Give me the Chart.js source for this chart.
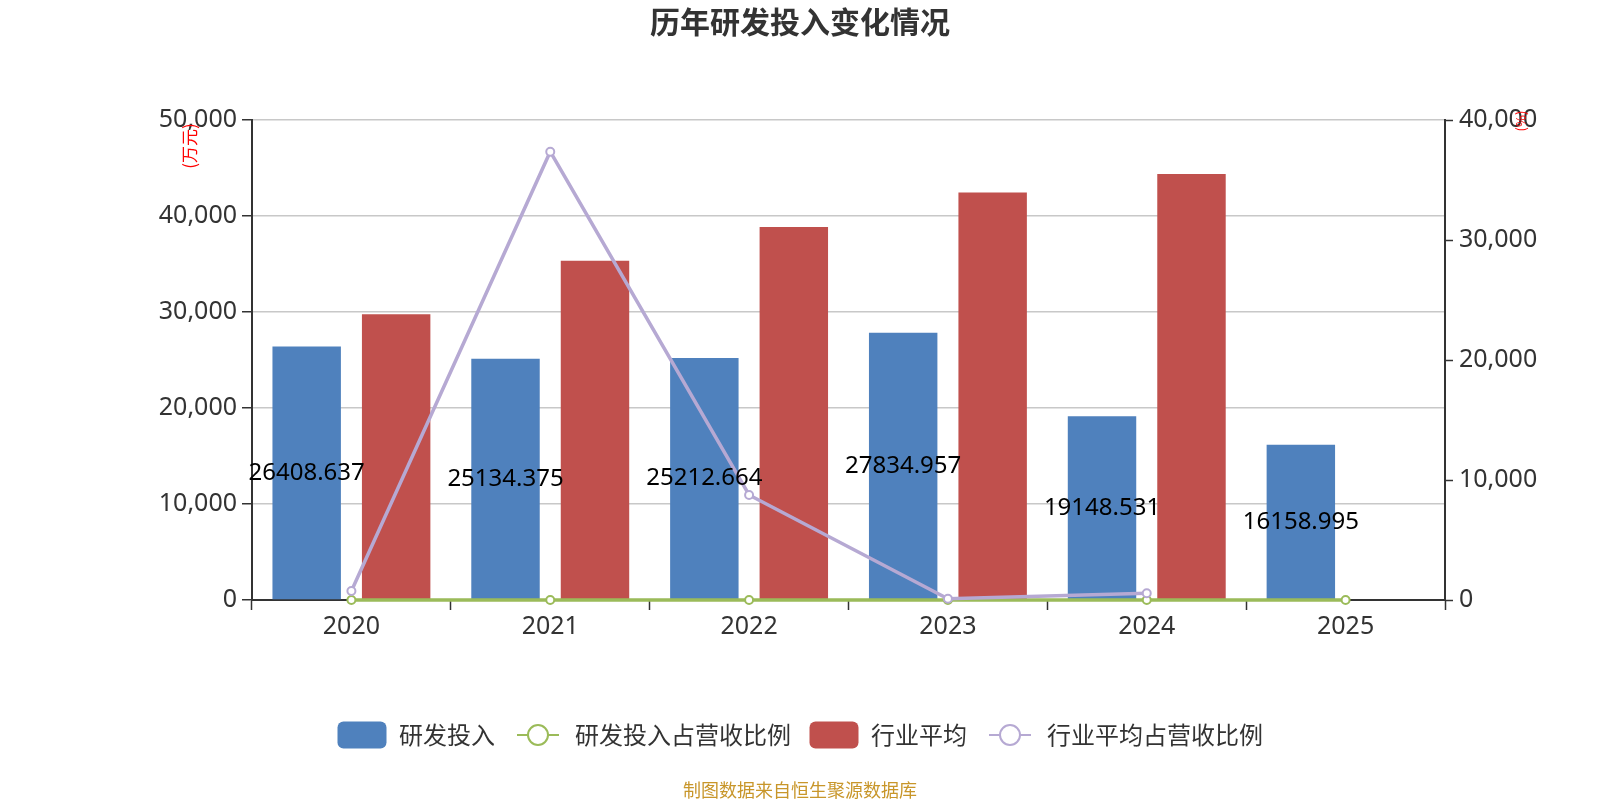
<!DOCTYPE html>
<html>
<head>
<meta charset="utf-8">
<script src="https://cdn.jsdelivr.net/npm/chart.js"></script>
<style>
	html, body { margin: 0; padding: 0; background: #fff; }
	#wrap { position: relative; width: 1600px; height: 800px; }
</style>
</head>
<body>
<div id="wrap"><canvas id="rd-chart"></canvas></div>
<script>
// data
const years = ['2020', '2021', '2022', '2023', '2024', '2025']
const rdSpend = [26408.637, 25134.375, 25212.664, 27834.957, 19148.531, 16158.995]
const rdRatio = [6.6, 6.8, 6.3, 6.9, 4.6, 4.2]
const industryAvg = [29760, 35350, 38850, 42460, 44370, null]
const industryRatio = [750, 37360, 8750, 100, 560, null]
const leftMax = 50000
const rightMax = 40000
const tickStep = 10000

const seriesNames = ['研发投入', '研发投入占营收比例', '行业平均', '行业平均占营收比例']

const BLUE = '#4f81bd'
const GREEN = '#9bbb59'
const RED = '#c0504d'
const PURPLE = '#b6a9d3'
const AXIS = '#333333'
const FONT = "'Noto Sans', 'Noto Sans CJK SC', sans-serif"
const CJK = "'Noto Sans CJK SC', sans-serif"

// legend icons
function boxIcon(color) {
	const c = document.createElement('canvas')
	c.width = 50
	c.height = 28
	const ctx = c.getContext('2d')
	ctx.fillStyle = color
	ctx.beginPath()
	ctx.roundRect(0.5, 0.5, 49, 27, 6)
	ctx.fill()
	return c
}

function lineIcon(color) {
	const c = document.createElement('canvas')
	c.width = 50
	c.height = 28
	const ctx = c.getContext('2d')
	ctx.strokeStyle = color
	ctx.lineWidth = 2
	ctx.beginPath()
	ctx.moveTo(4, 14)
	ctx.lineTo(46, 14)
	ctx.stroke()
	ctx.beginPath()
	ctx.arc(25, 14, 10, 0, Math.PI * 2)
	ctx.fillStyle = '#fff'
	ctx.fill()
	ctx.stroke()
	return c
}

const icons = [boxIcon(BLUE), lineIcon(GREEN), boxIcon(RED), lineIcon(PURPLE)]

// value labels inside the blue bars, units and source note
const extras = {
	id: 'extras',
	afterDatasetsDraw(chart) {
		const ctx = chart.ctx
		const meta = chart.getDatasetMeta(0)
		ctx.save()
		ctx.font = `24px ${FONT}`
		ctx.fillStyle = '#000'
		ctx.textAlign = 'center'
		ctx.textBaseline = 'middle'
		meta.data.forEach((bar, i) => {
			const { x, y, base } = bar.getProps(['x', 'y', 'base'], true)
			ctx.fillText(String(rdSpend[i]), x, (y + base) / 2)
		})
		ctx.restore()
	},
	afterDraw(chart) {
		const ctx = chart.ctx
		const area = chart.chartArea
		ctx.save()
		ctx.fillStyle = '#ff0000'
		ctx.font = `17px ${CJK}`
		ctx.textAlign = 'center'
		ctx.textBaseline = 'middle'
		ctx.translate(area.left - 62, area.top + 26)
		ctx.rotate(-Math.PI / 2)
		ctx.fillText('(万元)', 0, 0)
		ctx.restore()

		ctx.save()
		ctx.fillStyle = '#ff0000'
		ctx.font = `13px ${CJK}`
		ctx.textAlign = 'center'
		ctx.textBaseline = 'middle'
		ctx.translate(area.right + 76, area.top + 1)
		ctx.rotate(-Math.PI / 2)
		ctx.fillText('(%)', 0, 0)
		ctx.restore()

		ctx.save()
		ctx.fillStyle = '#c8962a'
		ctx.font = `18px ${CJK}`
		ctx.textAlign = 'center'
		ctx.textBaseline = 'middle'
		ctx.fillText('制图数据来自恒生聚源数据库', chart.width / 2, 790)
		ctx.restore()
	},
}

const fmt = (v) => Number(v).toLocaleString('en-US')

new Chart(document.getElementById('rd-chart'), {
	type: 'bar',
	data: {
		labels: years,
		datasets: [
			{
				type: 'bar',
				label: seriesNames[0],
				data: rdSpend,
				backgroundColor: BLUE,
				yAxisID: 'y',
				order: 1,
			},
			{
				type: 'line',
				label: seriesNames[1],
				data: rdRatio,
				borderColor: GREEN,
				borderWidth: 3.5,
				pointRadius: 4,
				pointBorderWidth: 2,
				pointBackgroundColor: '#fff',
				pointBorderColor: GREEN,
				yAxisID: 'y1',
				clip: false,
				order: 0,
			},
			{
				type: 'bar',
				label: seriesNames[2],
				data: industryAvg,
				backgroundColor: RED,
				yAxisID: 'y',
				order: 1,
			},
			{
				type: 'line',
				label: seriesNames[3],
				data: industryRatio,
				borderColor: PURPLE,
				borderWidth: 3.5,
				pointRadius: 4,
				pointBorderWidth: 2,
				pointBackgroundColor: '#fff',
				pointBorderColor: PURPLE,
				yAxisID: 'y1',
				clip: false,
				order: -1,
			},
		],
	},
	options: {
		responsive: true,
		maintainAspectRatio: false,
		animation: false,
		datasets: {
			bar: { categoryPercentage: 0.9, barPercentage: 0.765 },
		},
		layout: { padding: { left: 0, right: 0, top: 0, bottom: 43 } },
		plugins: {
			tooltip: { enabled: false },
			title: {
				display: true,
				text: '历年研发投入变化情况',
				color: '#333',
				font: { family: CJK, size: 30, weight: 'bold', lineHeight: 1.2 },
				padding: { top: 4, bottom: 80 },
			},
			legend: {
				position: 'bottom',
				labels: {
					usePointStyle: true,
					pointStyleWidth: 50,
					padding: 18,
					color: '#333',
					font: { family: CJK, size: 24 },
					generateLabels(chart) {
						return chart.data.datasets.map((ds, i) => ({
							text: ds.label,
							pointStyle: icons[i],
							fillStyle: 'transparent',
							strokeStyle: 'transparent',
							lineWidth: 0,
							fontColor: '#333',
							hidden: !chart.isDatasetVisible(i),
							datasetIndex: i,
						}))
					},
				},
			},
		},
		scales: {
			x: {
				offset: true,
				afterFit(scale) { scale.height = 105 },
				grid: {
					offset: true,
					drawOnChartArea: false,
					tickLength: 10,
					tickColor: AXIS,
					tickWidth: 1.5,
				},
				border: { color: AXIS, width: 2 },
				ticks: { color: '#333', padding: 2, font: { family: FONT, size: 25 } },
			},
			y: {
				position: 'left',
				min: 0,
				max: leftMax,
				afterFit(scale) { scale.width = 252 },
				ticks: {
					stepSize: tickStep,
					color: '#333',
					padding: 5,
					font: { family: FONT, size: 25 },
					callback: fmt,
				},
				grid: {
					color: '#c8c8c8',
					lineWidth: 1.5,
					tickLength: 10,
					tickColor: AXIS,
					tickWidth: 1.5,
				},
				border: { color: AXIS, width: 2 },
			},
			y1: {
				position: 'right',
				min: 0,
				max: rightMax,
				afterFit(scale) { scale.width = 155 },
				ticks: {
					stepSize: tickStep,
					color: '#333',
					padding: 6,
					font: { family: FONT, size: 25 },
					callback: fmt,
				},
				grid: {
					drawOnChartArea: false,
					tickLength: 8,
					tickColor: AXIS,
					tickWidth: 1.5,
				},
				border: { color: AXIS, width: 2 },
			},
		},
	},
	plugins: [extras],
})
</script>
</body>
</html>
